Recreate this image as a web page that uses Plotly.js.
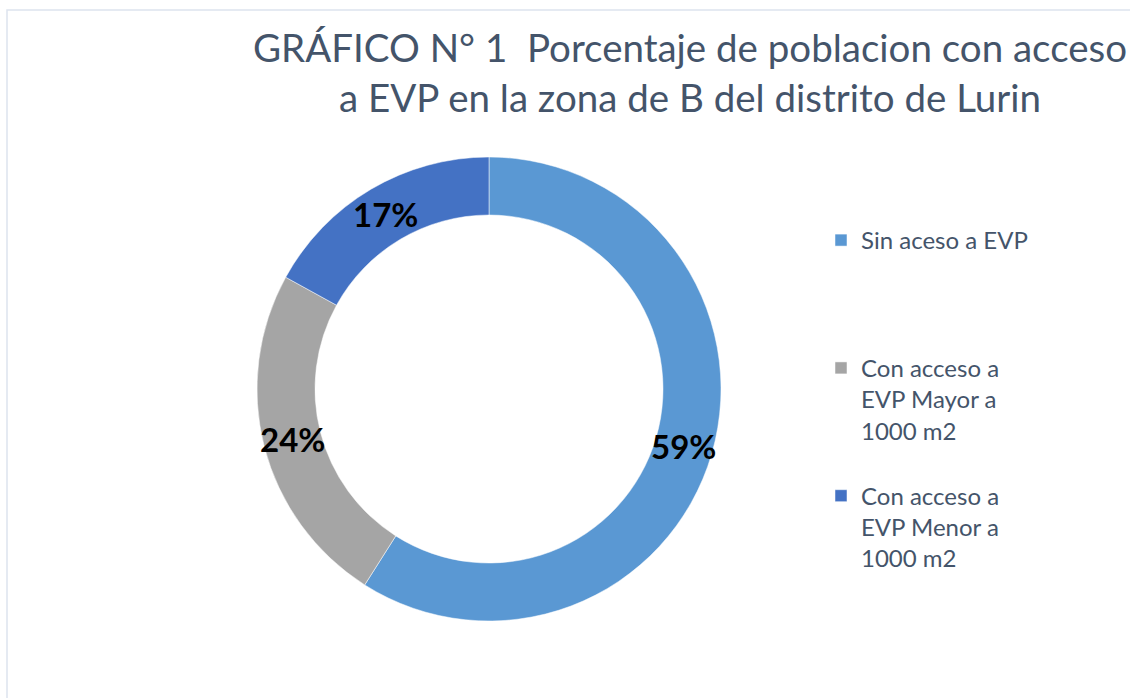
<!DOCTYPE html>
<html>
<head>
<meta charset="utf-8">
<script src="https://cdn.plot.ly/plotly-3.0.1.min.js"></script>
<style>
  html, body { margin: 0; padding: 0; background: #ffffff; }
  #chart { width: 1130px; height: 698px; }
</style>
</head>
<body>
<div id="chart"></div>
<script>
// ---- data ----
const categories = [
  "Sin aceso a EVP",
  "Con acceso a EVP Mayor a 1000 m2",
  "Con acceso a EVP Menor a 1000 m2"
];
const legendLines = [
  ["Sin aceso a EVP"],
  ["Con acceso a", "EVP Mayor a", "1000 m2"],
  ["Con acceso a", "EVP Menor a", "1000 m2"]
];
const values = [59, 24, 17];
const sliceColors = ["#5a98d3", "#a5a5a5", "#4472c4"];
const titleLines = [
  "GRÁFICO N° 1\u00a0 Porcentaje de poblacion con acceso",
  "a EVP en la zona de B del distrito de Lurin"
];

// pad each legend entry to 4 lines so the entries are evenly spaced
const LINES_PER_ENTRY = 4;
const displayLabels = legendLines.map(ls => {
  const out = ls.slice();
  while (out.length < LINES_PER_ENTRY) out.push("\u00a0");
  return out.join("<br>");
});

const W = 1130, H = 698;
const cx = 489, cy = 389, R = 232;
const HOLE = 0.75;

const trace = {
  type: "pie",
  labels: displayLabels,
  values: values,
  customdata: categories,
  hovertemplate: "%{customdata}: %{percent}<extra></extra>",
  sort: false,
  direction: "clockwise",
  rotation: 0,
  hole: HOLE,
  marker: { colors: sliceColors, line: { color: "#ffffff", width: 0.5 } },
  textinfo: "none",
  domain: {
    x: [(cx - R) / W, (cx + R) / W],
    y: [(H - cy - R) / H, (H - cy + R) / H]
  }
};

// percentage labels centred in the ring at each slice's mid angle
const total = values.reduce((a, b) => a + b, 0);
const rMid = R * (1 + HOLE) / 2;
let cum = 0;
const annotations = values.map(v => {
  const frac = (cum + v / 2) / total;
  cum += v;
  const theta = 2 * Math.PI * frac;
  const px = cx + rMid * Math.sin(theta);
  const py = cy - rMid * Math.cos(theta);
  return {
    xref: "paper", yref: "paper",
    x: px / W, y: 1 - py / H,
    xanchor: "center", yanchor: "middle",
    showarrow: false,
    text: Math.round(100 * v / total) + "%",
    font: { family: "Lato, 'Open Sans', sans-serif", size: 33, color: "#000000", weight: "bold" }
  };
});

const layout = {
  width: W,
  height: H,
  margin: { l: 0, r: 0, t: 0, b: 0 },
  paper_bgcolor: "#ffffff",
  plot_bgcolor: "#ffffff",
  title: {
    text: titleLines.join("<br>"),
    font: { family: "Lato, 'Open Sans', sans-serif", size: 38.5, color: "#44546a" },
    xref: "container", yref: "container",
    x: 690 / W, xanchor: "center",
    y: 1 - 62 / H, yanchor: "top"
  },
  showlegend: true,
  legend: {
    x: 821 / W, xanchor: "left",
    y: 1 - 218 / H, yanchor: "top",
    valign: "top",
    font: { family: "Lato, 'Open Sans', sans-serif", size: 24, color: "#44546a" },
    bgcolor: "rgba(0,0,0,0)"
  },
  annotations: annotations,
  shapes: [{
    type: "rect", xref: "paper", yref: "paper",
    x0: 7 / W, x1: 1.02, y0: -0.02, y1: 1 - 10 / H,
    line: { color: "#dde4ee", width: 1.5 },
    fillcolor: "rgba(0,0,0,0)", layer: "below"
  }]
};

Plotly.newPlot("chart", [trace], layout, { displayModeBar: false, responsive: false });
</script>
</body>
</html>
